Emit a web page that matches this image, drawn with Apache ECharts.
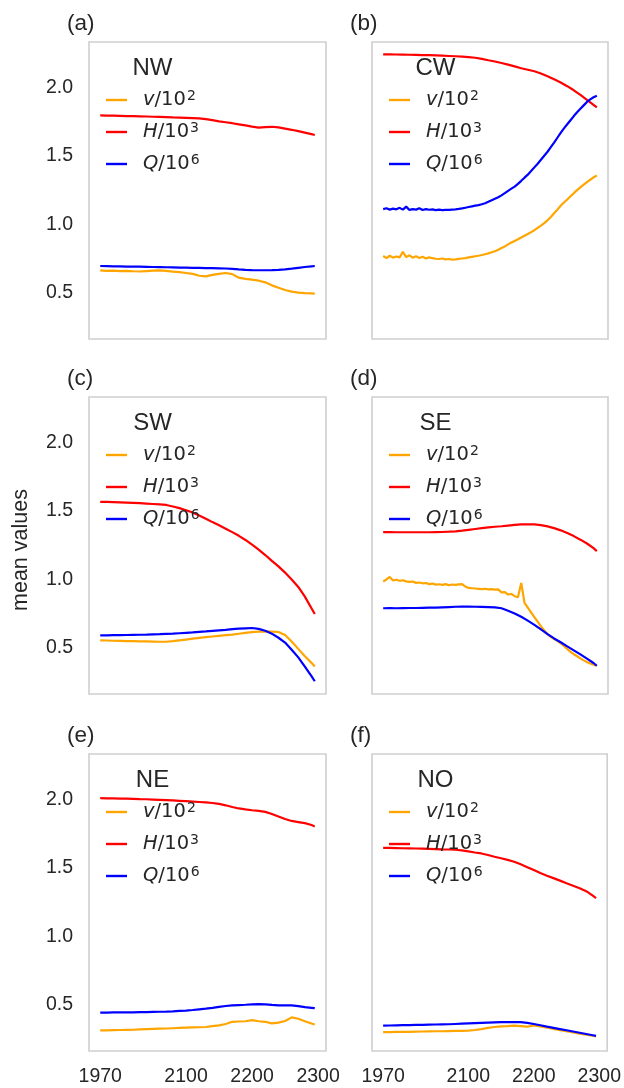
<!DOCTYPE html>
<html><head><meta charset="utf-8">
<script src="https://cdn.jsdelivr.net/npm/echarts@6/dist/echarts.min.js"></script>
<style>html,body{margin:0;padding:0;background:#fff}#c{width:624px;height:1088px}</style>
</head><body><div id="c"></div>
<script>
// ---------- data ----------
const yearsC = [1970,1980,1990,2000,2010,2020,2030,2040,2050,2060,2070,2080,2090,2100,2110,2120,2130,2140,2150,2160,2170,2180,2190,2200,2210,2220,2230,2240,2250,2260,2270,2280,2290,2295];
const yearsF = [1970,1975,1980,1985,1990,1995,2000,2005,2010,2015,2020,2025,2030,2035,2040,2045,2050,2055,2060,2065,2070,2075,2080,2085,2090,2095,2100,2105,2110,2115,2120,2125,2130,2135,2140,2145,2150,2155,2160,2165,2170,2175,2180,2185,2190,2195,2200,2205,2210,2215,2220,2225,2230,2235,2240,2245,2250,2255,2260,2265,2270,2275,2280,2285,2290,2295];
const xTicks = [1970,2100,2200,2300];
const yTicks = [0.5,1.0,1.5,2.0];
const panelLetters = ['(a)','(b)','(c)','(d)','(e)','(f)'];
const regions = ['NW','CW','SW','SE','NE','NO'];

// NW
const vNW = [0.665,0.662,0.664,0.660,0.662,0.659,0.657,0.660,0.663,0.665,0.662,0.656,0.652,0.646,0.640,0.626,0.622,0.632,0.640,0.646,0.638,0.612,0.603,0.598,0.590,0.578,0.556,0.538,0.522,0.510,0.503,0.499,0.497,0.496];
const hNW = [1.795,1.794,1.793,1.792,1.790,1.789,1.788,1.787,1.785,1.784,1.782,1.780,1.779,1.777,1.775,1.773,1.768,1.760,1.752,1.745,1.738,1.730,1.722,1.713,1.706,1.710,1.712,1.708,1.699,1.690,1.680,1.669,1.658,1.652];
const qNW = [0.697,0.696,0.695,0.694,0.693,0.692,0.692,0.691,0.690,0.689,0.688,0.687,0.686,0.685,0.684,0.683,0.682,0.681,0.680,0.679,0.676,0.672,0.669,0.667,0.666,0.666,0.667,0.669,0.673,0.678,0.684,0.690,0.695,0.697];
// CW (fine grid for v and Q)
const vCW = [0.770,0.755,0.772,0.758,0.766,0.760,0.800,0.762,0.775,0.758,0.768,0.756,0.764,0.752,0.760,0.754,0.750,0.748,0.752,0.745,0.748,0.744,0.746,0.749,0.752,0.755,0.760,0.764,0.768,0.772,0.777,0.783,0.789,0.797,0.805,0.815,0.828,0.840,0.855,0.868,0.880,0.892,0.905,0.918,0.930,0.944,0.958,0.975,0.992,1.010,1.030,1.055,1.082,1.108,1.136,1.160,1.182,1.205,1.228,1.250,1.270,1.290,1.308,1.326,1.343,1.357];
const hCW = [2.240,2.240,2.239,2.238,2.237,2.236,2.235,2.234,2.232,2.230,2.228,2.226,2.223,2.220,2.215,2.207,2.197,2.188,2.177,2.165,2.152,2.139,2.128,2.117,2.100,2.080,2.058,2.035,2.008,1.978,1.945,1.908,1.872,1.854];
const qCW = [1.112,1.118,1.108,1.115,1.110,1.121,1.108,1.130,1.106,1.112,1.108,1.118,1.105,1.112,1.107,1.110,1.104,1.108,1.105,1.106,1.106,1.108,1.110,1.113,1.117,1.122,1.127,1.132,1.137,1.141,1.147,1.155,1.165,1.176,1.187,1.198,1.212,1.228,1.245,1.261,1.276,1.296,1.318,1.341,1.363,1.389,1.416,1.443,1.472,1.501,1.530,1.563,1.597,1.632,1.667,1.700,1.730,1.760,1.790,1.818,1.843,1.868,1.893,1.912,1.927,1.938];
// SW
const vSW = [0.556,0.555,0.553,0.552,0.551,0.550,0.549,0.548,0.547,0.546,0.546,0.550,0.556,0.562,0.568,0.574,0.579,0.584,0.589,0.594,0.598,0.604,0.610,0.616,0.620,0.621,0.620,0.617,0.595,0.548,0.494,0.440,0.392,0.366];
const hSW = [1.566,1.565,1.564,1.562,1.560,1.558,1.556,1.553,1.550,1.547,1.543,1.532,1.520,1.505,1.488,1.466,1.442,1.418,1.395,1.370,1.345,1.318,1.288,1.254,1.218,1.178,1.135,1.095,1.050,1.000,0.945,0.875,0.790,0.748];
const qSW = [0.593,0.593,0.594,0.594,0.595,0.596,0.597,0.598,0.600,0.601,0.603,0.605,0.608,0.611,0.614,0.618,0.621,0.625,0.629,0.633,0.638,0.641,0.644,0.646,0.640,0.626,0.605,0.575,0.540,0.488,0.432,0.365,0.295,0.258];
// SE (fine grid for v)
const vSE = [0.985,1.000,1.018,0.992,0.998,0.990,0.994,0.986,0.982,0.985,0.975,0.978,0.972,0.974,0.966,0.970,0.962,0.965,0.960,0.966,0.958,0.963,0.960,0.964,0.966,0.948,0.938,0.936,0.934,0.932,0.930,0.932,0.928,0.930,0.926,0.928,0.906,0.908,0.890,0.895,0.878,0.870,0.975,0.830,0.795,0.760,0.726,0.692,0.658,0.628,0.602,0.582,0.566,0.552,0.535,0.515,0.493,0.472,0.455,0.440,0.425,0.410,0.398,0.387,0.378,0.371];
const hSE = [1.345,1.345,1.344,1.344,1.344,1.344,1.344,1.344,1.345,1.346,1.348,1.351,1.356,1.362,1.368,1.374,1.379,1.384,1.388,1.393,1.398,1.401,1.402,1.401,1.396,1.387,1.374,1.358,1.338,1.316,1.290,1.262,1.228,1.207];
const qSE = [0.790,0.791,0.790,0.791,0.792,0.792,0.793,0.794,0.795,0.797,0.799,0.801,0.802,0.802,0.801,0.800,0.799,0.797,0.790,0.772,0.752,0.728,0.700,0.669,0.636,0.602,0.570,0.542,0.512,0.483,0.454,0.423,0.391,0.371];
// NE
const vNE = [0.315,0.316,0.317,0.318,0.319,0.320,0.322,0.324,0.326,0.328,0.329,0.331,0.333,0.335,0.337,0.338,0.340,0.346,0.352,0.362,0.378,0.380,0.382,0.390,0.382,0.378,0.366,0.372,0.384,0.410,0.400,0.382,0.366,0.358];
const hNE = [2.008,2.007,2.006,2.005,2.004,2.003,2.001,2.000,1.998,1.996,1.994,1.992,1.989,1.986,1.983,1.980,1.977,1.973,1.966,1.956,1.944,1.933,1.926,1.920,1.915,1.908,1.893,1.874,1.856,1.842,1.834,1.826,1.812,1.802];
const qNE = [0.445,0.445,0.446,0.446,0.447,0.447,0.448,0.449,0.450,0.451,0.452,0.454,0.457,0.460,0.464,0.469,0.474,0.480,0.487,0.493,0.498,0.500,0.502,0.505,0.506,0.505,0.501,0.498,0.497,0.498,0.492,0.485,0.480,0.477];
// NO
const vNO = [0.303,0.303,0.304,0.305,0.305,0.306,0.307,0.308,0.309,0.309,0.310,0.311,0.312,0.313,0.318,0.325,0.333,0.340,0.344,0.346,0.350,0.346,0.342,0.352,0.344,0.336,0.326,0.317,0.309,0.301,0.292,0.284,0.276,0.271];
const hNO = [1.645,1.645,1.644,1.643,1.642,1.641,1.640,1.639,1.637,1.635,1.634,1.632,1.627,1.620,1.612,1.605,1.594,1.581,1.570,1.558,1.545,1.526,1.505,1.484,1.462,1.443,1.425,1.407,1.388,1.370,1.352,1.330,1.298,1.280];
const qNO = [0.350,0.351,0.352,0.353,0.354,0.355,0.356,0.357,0.358,0.359,0.360,0.362,0.364,0.366,0.368,0.370,0.372,0.374,0.375,0.376,0.376,0.375,0.370,0.362,0.353,0.343,0.334,0.325,0.316,0.307,0.298,0.289,0.280,0.275];

const panels = [
  {v:[yearsC,vNW], h:[yearsC,hNW], q:[yearsC,qNW]},
  {v:[yearsF,vCW], h:[yearsC,hCW], q:[yearsF,qCW]},
  {v:[yearsC,vSW], h:[yearsC,hSW], q:[yearsC,qSW]},
  {v:[yearsF,vSE], h:[yearsC,hSE], q:[yearsC,qSE]},
  {v:[yearsC,vNE], h:[yearsC,hNE], q:[yearsC,qNE]},
  {v:[yearsC,vNO], h:[yearsC,hNO], q:[yearsC,qNO]}
];
const seriesNames = ['v','H','Q'];
const seriesExp = {v:'2', H:'3', Q:'6'};
const seriesColors = {v:'#FFA500', H:'#FF0000', Q:'#0000FF'};

// ---------- layout ----------
const colLeft = [89, 372];
const colWidth = [237, 236];
const rowTop = [42, 397, 754];
const gridH = 297;
const TXT = '#262626';
const SANS = 'Liberation Sans, Arial, sans-serif';
const MATH = 'DejaVu Sans, sans-serif';

function pairs(xs, ys){ const n=Math.min(xs.length, ys.length); const out=[]; for(let i=0;i<n;i++) out.push([xs[i], ys[i]]); return out; }

const grid=[], xAxis=[], yAxis=[], series=[], legend=[], graphic=[];
panels.forEach((p, i) => {
  const r = Math.floor(i/2), c = i%2;
  const L = colLeft[c], T = rowTop[r];
  grid.push({left:L, top:T, width:colWidth[c], height:gridH, show:true, borderColor:'#cfcfcf', borderWidth:1.6, backgroundColor:'#fff', containLabel:false});
  xAxis.push({gridIndex:i, type:'value', min:1953, max:2312,
    axisLine:{show:false}, axisTick:{show:false}, splitLine:{show:false},
    axisLabel:{show:r===2, customValues:xTicks, fontSize:19.5, color:TXT, fontFamily:SANS, margin:16, formatter:v=>String(v)}});
  yAxis.push({gridIndex:i, type:'value', min:0.165, max:2.33,
    axisLine:{show:false}, axisTick:{show:false}, splitLine:{show:false},
    axisLabel:{show:c===0, customValues:yTicks, fontSize:19.5, color:TXT, fontFamily:SANS, margin:16, formatter:v=>v.toFixed(1)}});
  [['v',p.v],['H',p.h],['Q',p.q]].forEach(([nm, d]) => {
    series.push({name:nm, type:'line', xAxisIndex:i, yAxisIndex:i, data:pairs(d[0], d[1]),
      showSymbol:false, symbol:'none', smooth:false, animation:false,
      lineStyle:{color:seriesColors[nm], width:2.2}, itemStyle:{color:seriesColors[nm]}});
  });
  legend.push({data:seriesNames, orient:'vertical', left:L+17, top:T+47, padding:0, itemWidth:21, itemHeight:12, itemGap:10,
    icon:'path://M0,0 L21,0 L21,2.4 L0,2.4 Z', selectedMode:false,
    formatter: nm => '{i|'+nm+'}{t|/10}{s|'+seriesExp[nm]+'}',
    textStyle:{color:TXT, fontSize:19.5, fontFamily:MATH, lineHeight:22, padding:[0,0,0,11],
      rich:{ i:{fontStyle:'italic', fontSize:19.5, fontFamily:MATH, color:TXT, lineHeight:22},
             t:{fontSize:19.5, fontFamily:MATH, color:TXT, lineHeight:22},
             s:{fontSize:14, fontFamily:MATH, color:TXT, lineHeight:14, padding:[0,0,8,1]} }}});
  graphic.push({type:'text', left:L-22, top:T-30, style:{text:panelLetters[i], fontSize:22.5, fontFamily:SANS, fill:TXT}});
  graphic.push({type:'text', x:L+63.5, y:T+14, style:{text:regions[i], fontSize:24, fontFamily:SANS, fill:TXT, align:'center', verticalAlign:'top'}});
});
graphic.push({type:'text', x:21, y:550, rotation:Math.PI/2, style:{text:'mean values', fontSize:21.5, fontFamily:SANS, fill:TXT, align:'center', verticalAlign:'middle'}});

const chart = echarts.init(document.getElementById('c'), null, {renderer:'canvas'});
chart.setOption({animation:false, backgroundColor:'#fff', grid, xAxis, yAxis, series, legend, graphic});
</script></body></html>
